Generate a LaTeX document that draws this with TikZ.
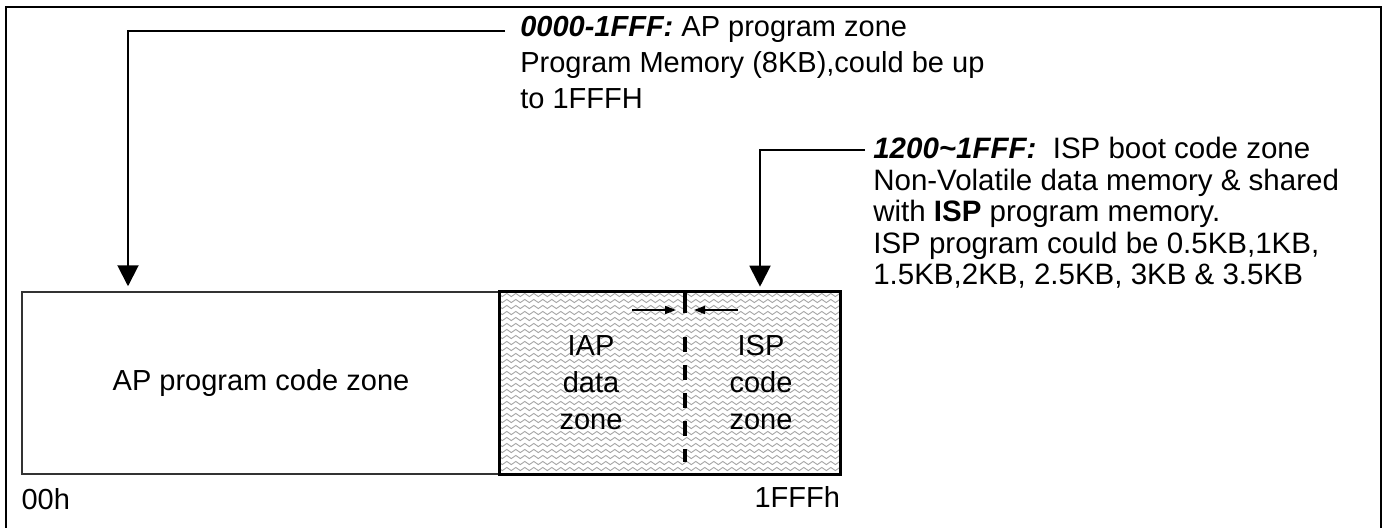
\documentclass[tikz,border=0pt]{standalone}
\usepackage{fontspec}
\setmainfont{Liberation Sans}
\usetikzlibrary{arrows,arrows.meta,decorations.pathmorphing}
\definecolor{wavegray}{RGB}{165,165,165}

\begin{document}
\begin{tikzpicture}[x=1pt,y=-1pt,>={Triangle[width=21pt,length=21pt]},semithick]
 \tikzstyle{every node}=[inner sep=0pt,font=\fontsize{29}{36}\selectfont]
 \tikzstyle{zone}=[minimum height=182pt]
 \tikzstyle{note}=[align=left,anchor=north west]
 \tikzstyle{wave}=[wavegray,line width=0.9pt,decorate,decoration={snake,amplitude=1.6pt,segment length=9pt}]
 \tikzstyle{bigarrow}=[line width=2pt,->,shorten >=5pt]
 \tikzstyle{smallarrow}=[line width=1.5pt,-{Triangle[width=8pt,length=11pt]}]

 \useasboundingbox (0,0) rectangle (1388,527);
 \draw[line width=2pt] (6,530) -- (6,7) -- (1381,7) -- (1381,530);

 % memory map
 \node[zone,draw=black!80,line width=1.5pt,minimum width=478pt] (apzone) at (261,383) {AP program code zone};
 \node[zone,minimum width=340pt] (ispzone) at (670,383) {};
 \begin{scope}
  \clip (ispzone.south west) rectangle (ispzone.north east);
  \foreach \y in {295,301,...,475}
   \draw[wave] (495,\y) -- (845,\y);
 \end{scope}
 \draw[line width=3pt] (ispzone.south west) rectangle (ispzone.north east);

 \coordinate (divtop) at (685,293);
 \coordinate (divbot) at (685,462);
 \draw[line width=3.5pt] (divtop) -- (685,313);
 \draw[line width=3.5pt,dash pattern=on 15pt off 13pt] (685,337) -- (divbot);

 \coordinate (iapfrom) at (632,310);
 \coordinate (iapto) at (676,310);
 \coordinate (ispfrom) at (738,310);
 \coordinate (ispto) at (694,310);
 \draw[smallarrow] (iapfrom) -- (iapto);
 \draw[smallarrow] (ispfrom) -- (ispto);

 \node[align=center,font=\fontsize{29}{37}\selectfont] (iaptext) at (591,383) {IAP\\data\\zone};
 \node[align=center,font=\fontsize{29}{37}\selectfont] (isptext) at (761,383) {ISP\\code\\zone};

 \node[anchor=north west] (lowaddr) at ([yshift=-13pt]apzone.south west) {00h};
 \node[anchor=north east] (highaddr) at ([yshift=-12pt]ispzone.south east) {1FFFh};

 % notes
 \node[note] (apnote) at (520,16) {\textbf{\textit{0000-1FFF:}} AP program zone\\Program Memory (8KB),could be up\\to 1FFFH};
 \node[note,font=\fontsize{29.5}{31.5}\selectfont] (ispnote) at (873,137) {\textbf{\textit{1200\textasciitilde1FFF:}}\ \ ISP boot code zone\\Non-Volatile data memory \& shared\\with \textbf{ISP} program memory.\\ISP program could be 0.5KB,1KB,\\1.5KB,2KB, 2.5KB, 3KB \& 3.5KB};

 \coordinate (apline) at (505,31);
 \coordinate (ispline) at (865,150);
 \draw[bigarrow] (apline) -| (128,0 |- apzone.north);
 \draw[bigarrow] (ispline) -| (760,0 |- ispzone.north);

\end{tikzpicture}
\end{document}
